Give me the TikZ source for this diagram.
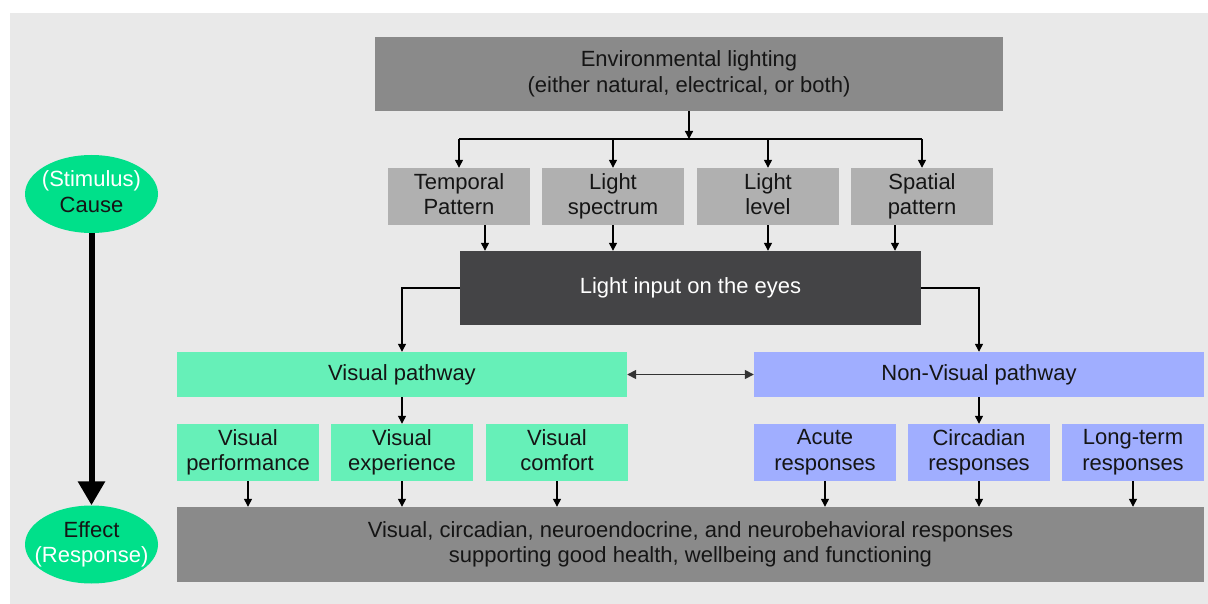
\documentclass[tikz,border=0pt]{standalone}
\usepackage{fontspec}
\setmainfont{Liberation Sans}
\usetikzlibrary{arrows.meta,shapes.geometric}
\definecolor{bgc}{HTML}{E9E9E9}
\definecolor{midgray}{HTML}{8A8A8A}
\definecolor{lightgray}{HTML}{B0B0B0}
\definecolor{darkbox}{HTML}{444446}
\definecolor{vgreen}{HTML}{66F0B8}
\definecolor{nvblue}{HTML}{A0AEFF}
\definecolor{egreen}{HTML}{00E08A}
\definecolor{txt}{HTML}{151515}
\newcommand{\mystrut}{\rule[-4.65pt]{0pt}{20.85pt}}
\tikzset{
  box/.style={rectangle, inner sep=0pt, align=center, text=txt,
    font=\fontsize{22}{25.5}\selectfont,
    execute at begin node=\mystrut, execute at end node=\mystrut},
  arr/.style={draw=black, line width=1.3pt, -{Triangle[width=8pt,length=8pt]}},
  darr/.style={draw=black!80, line width=1.5pt, {Triangle[width=9pt,length=9pt]}-{Triangle[width=9pt,length=9pt]}},
  plain/.style={draw=black, line width=1.3pt},
  ell/.style={ellipse, fill=egreen, inner sep=0pt, minimum width=133pt, minimum height=78pt, align=center,
    font=\fontsize{22}{25.5}\selectfont,
    execute at begin node=\mystrut, execute at end node=\mystrut},
}
\begin{document}
\begin{tikzpicture}[x=1pt,y=-1pt]
\useasboundingbox (0,0) rectangle (1208,604);
\fill[white] (0,0) rectangle (1208,604);
\fill[bgc] (10,13) rectangle (1208,604);

% top
\node[box, fill=midgray, minimum width=628pt, minimum height=74pt] (top) at (689,74) {Environmental lighting\\(either natural, electrical, or both)};
\coordinate (j) at (689,139);

% factors
\node[box, fill=lightgray, minimum width=142pt, minimum height=57pt] (tp) at (459,196.5) {Temporal\\Pattern};
\node[box, fill=lightgray, minimum width=142pt, minimum height=57pt] (ls) at (613,196.5) {Light\\spectrum};
\node[box, fill=lightgray, minimum width=142pt, minimum height=57pt] (ll) at (768,196.5) {Light\\level};
\node[box, fill=lightgray, minimum width=142pt, minimum height=57pt] (sp) at (922,196.5) {Spatial\\pattern};

% light input
\node[box, fill=darkbox, text=white, minimum width=461pt, minimum height=74pt] (li) at (690.5,288) {Light input on the eyes};

% pathways
\node[box, fill=vgreen, minimum width=450pt, minimum height=45pt] (vp) at (402,374.5) {Visual pathway};
\node[box, fill=nvblue, minimum width=450pt, minimum height=45pt] (nv) at (979,374.5) {Non-Visual pathway};

% row boxes
\node[box, fill=vgreen, minimum width=142pt, minimum height=57pt] (vpf) at (248,452.5) {Visual\\performance};
\node[box, fill=vgreen, minimum width=142pt, minimum height=57pt] (vex) at (402,452.5) {Visual\\experience};
\node[box, fill=vgreen, minimum width=142pt, minimum height=57pt] (vco) at (557,452.5) {Visual\\comfort};
\node[box, fill=nvblue, minimum width=142pt, minimum height=57pt] (ac) at (825,452.5) {Acute\\responses};
\node[box, fill=nvblue, minimum width=142pt, minimum height=57pt] (cr) at (979,452.5) {Circadian\\responses};
\node[box, fill=nvblue, minimum width=142pt, minimum height=57pt] (lt) at (1133,452.5) {Long-term\\responses};

% bottom
\node[box, fill=midgray, minimum width=1027pt, minimum height=75pt] (bot) at (690.5,544.5) {Visual, circadian, neuroendocrine, and neurobehavioral responses\\supporting good health, wellbeing and functioning};

% ellipses
\node[ell] (cause) at (91.5,194) {\makebox[0pt]{\textcolor{white}{(Stimulus)}}\\\makebox[0pt]{\textcolor{txt}{Cause}}};
\node[ell] (effect) at (91.5,544.5) {\makebox[0pt]{\textcolor{txt}{Effect}}\\\makebox[0pt]{\textcolor{white}{(Response)}}};
\draw[line width=6pt, -{Triangle[width=26pt,length=24pt]}] (cause.south) -- (effect.north);

% connectors
\draw[arr] (top.south) -- (j);
\draw[plain] (j -| tp.north) -- (j -| sp.north);
\draw[arr] (j -| tp.north) -- (tp.north);
\draw[arr] (j -| ls.north) -- (ls.north);
\draw[arr] (j -| ll.north) -- (ll.north);
\draw[arr] (j -| sp.north) -- (sp.north);

\draw[arr] ([xshift=26pt]tp.south) -- ([xshift=26pt]tp.south |- li.north);
\draw[arr] (ls.south) -- (ls.south |- li.north);
\draw[arr] (ll.south) -- (ll.south |- li.north);
\draw[arr] ([xshift=-27pt]sp.south) -- ([xshift=-27pt]sp.south |- li.north);

\draw[arr] (li.west) -| (vp.north);
\draw[arr] (li.east) -| (nv.north);
\draw[darr] (vp.east) -- (nv.west);

\draw[arr] (vp.south) -- (vex.north);
\draw[arr] (nv.south) -- (cr.north);

\foreach \n in {vpf,vex,vco,ac,cr,lt}
  \draw[arr] (\n.south) -- (\n.south |- bot.north);
\end{tikzpicture}
\end{document}
